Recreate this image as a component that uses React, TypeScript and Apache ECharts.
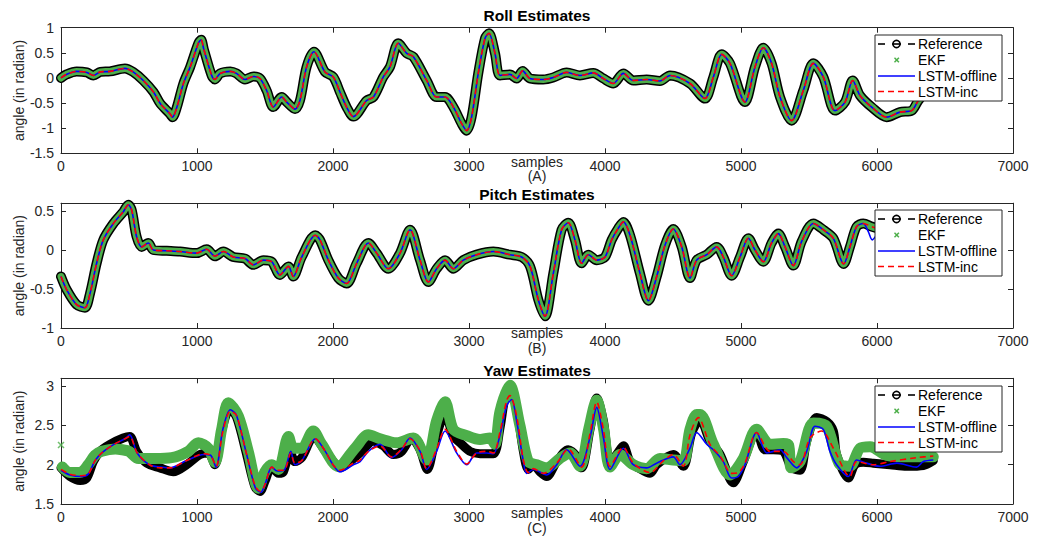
import React, { useEffect, useRef } from "react";
import * as echarts from "echarts";

type P = [number, number];

// ---------- data (sample index, angle in radian) ----------
const rollRef: P[] = [
  [0, 0.0], [40, 0.07], [115, 0.13], [190, 0.11], [238, 0.05], [290, 0.12], [360, 0.13], [470, 0.19], [530, 0.12],
  [605, -0.05], [680, -0.28], [730, -0.51], [800, -0.71], [820, -0.78], [850, -0.6], [900, -0.11], [950, 0.22],
  [1010, 0.69], [1030, 0.76], [1050, 0.57], [1108, 0.05], [1132, -0.03], [1170, 0.09], [1245, 0.13], [1290, 0.09],
  [1353, -0.03], [1415, 0.03], [1463, -0.01], [1512, -0.25], [1561, -0.58], [1623, -0.38], [1660, -0.48],
  [1721, -0.62], [1757, -0.45], [1806, 0.22], [1860, 0.52], [1941, 0.12], [2002, 0.02], [2051, -0.28],
  [2100, -0.58], [2150, -0.77], [2247, -0.45], [2297, -0.38], [2370, 0.02], [2419, 0.22], [2480, 0.69],
  [2542, 0.49], [2591, 0.42], [2689, -0.05], [2762, -0.38], [2824, -0.38], [2885, -0.58], [2946, -0.91],
  [2983, -1.05], [3019, -0.78], [3068, 0.09], [3118, 0.79], [3147, 0.89], [3191, 0.49], [3228, 0.05],
  [3301, 0.07], [3350, -0.01], [3394, 0.14], [3448, -0.01], [3546, -0.03], [3620, 0.01], [3718, 0.11],
  [3816, 0.05], [3914, 0.1], [3987, -0.01], [4061, -0.11], [4135, 0.09], [4208, -0.05], [4306, -0.03],
  [4404, -0.06], [4478, 0.05], [4625, -0.11], [4735, -0.41], [4797, 0.02], [4858, 0.47], [4919, 0.29],
  [5029, -0.48], [5103, 0.22], [5164, 0.6], [5225, 0.29], [5287, -0.38], [5372, -0.85], [5458, -0.25],
  [5532, 0.29], [5605, 0.02], [5691, -0.65], [5765, -0.48], [5821, -0.05], [5875, -0.35], [5961, -0.58],
  [6071, -0.78], [6169, -0.68], [6255, -0.65], [6304, -0.45], [6400, -0.15],
];
const rollEkf: P[] = rollRef;
const rollOffline: P[] = rollRef;
const rollInc: P[] = rollRef;

const pitchRef: P[] = [
  [0, -0.34], [42, -0.51], [115, -0.7], [176, -0.74], [213, -0.56], [262, -0.17], [311, 0.13], [385, 0.34],
  [458, 0.49], [495, 0.58], [520, 0.51], [556, 0.17], [593, 0.04], [642, 0.09], [679, 0.0], [777, -0.01],
  [875, -0.02], [998, -0.04], [1071, 0.01], [1132, -0.08], [1194, -0.02], [1267, -0.09], [1353, -0.11],
  [1414, -0.19], [1488, -0.13], [1549, -0.15], [1610, -0.32], [1672, -0.21], [1708, -0.34], [1770, -0.09],
  [1870, 0.19], [1904, 0.13], [1966, -0.13], [2039, -0.36], [2100, -0.43], [2174, -0.17], [2260, 0.09],
  [2321, -0.04], [2407, -0.24], [2493, -0.04], [2566, 0.26], [2640, -0.13], [2701, -0.41], [2762, -0.24],
  [2824, -0.13], [2885, -0.24], [2958, -0.13], [3056, -0.06], [3179, -0.02], [3301, -0.06], [3387, -0.09],
  [3449, -0.21], [3510, -0.64], [3559, -0.85], [3620, -0.3], [3681, 0.26], [3730, 0.35], [3779, 0.13],
  [3828, -0.17], [3877, -0.06], [3939, -0.13], [4000, -0.09], [4049, 0.13], [4098, 0.28], [4135, 0.36],
  [4184, 0.19], [4257, -0.3], [4319, -0.65], [4380, -0.34], [4441, 0.06], [4502, 0.27], [4564, 0.04],
  [4625, -0.36], [4674, -0.13], [4748, -0.06], [4821, 0.04], [4870, -0.09], [4931, -0.33], [4993, -0.09],
  [5054, 0.15], [5103, 0.0], [5164, -0.15], [5225, 0.09], [5274, 0.21], [5324, 0.04], [5385, -0.2],
  [5446, 0.11], [5532, 0.34], [5605, 0.26], [5679, 0.15], [5755, -0.18], [5801, 0.04], [5850, 0.3],
  [5899, 0.34], [5960, 0.3], [6000, 0.28],
];
const pitchEkf: P[] = pitchRef;
const pitchOfflineTail: P[] = [[5935, 0.24], [5965, 0.13], [6000, 0.2]];
const pitchOffline: P[] = [...pitchRef.filter((d) => d[0] <= 5899), ...pitchOfflineTail];
const pitchInc: P[] = pitchRef;

const yawRef: P[] = [
  [0, 1.96], [66, 1.85], [140, 1.8], [189, 1.83], [238, 2.04], [287, 2.17], [360, 2.26], [458, 2.34],
  [505, 2.36], [556, 2.17], [630, 2.02], [728, 1.96], [826, 1.91], [924, 2.0], [1022, 2.13], [1083, 2.15],
  [1132, 2.0], [1181, 2.43], [1243, 2.71], [1292, 2.6], [1365, 2.13], [1426, 1.72], [1463, 1.66], [1500, 1.79],
  [1549, 1.98], [1598, 1.89], [1635, 1.91], [1684, 2.17], [1720, 2.04], [1770, 2.09], [1860, 2.36],
  [1929, 2.21], [2002, 2.04], [2051, 1.96], [2125, 2.04], [2199, 2.15], [2297, 2.3], [2370, 2.24],
  [2444, 2.13], [2505, 2.17], [2578, 2.34], [2640, 2.19], [2694, 1.94], [2750, 2.3], [2824, 2.64],
  [2885, 2.36], [2934, 2.28], [3007, 2.17], [3081, 2.14], [3179, 2.14], [3228, 2.47], [3265, 2.85],
  [3301, 2.95], [3350, 2.72], [3400, 2.17], [3436, 1.94], [3473, 2.0], [3522, 1.91], [3571, 1.85],
  [3645, 2.04], [3730, 2.19], [3779, 2.13], [3828, 1.96], [3890, 2.45], [3939, 2.85], [3988, 2.56],
  [4037, 2.04], [4086, 2.13], [4135, 2.24], [4184, 2.04], [4245, 1.96], [4331, 1.89], [4380, 2.0],
  [4502, 2.13], [4576, 1.98], [4637, 2.4], [4699, 2.58], [4772, 2.3], [4846, 2.13], [4943, 1.77],
  [5017, 2.04], [5115, 2.43], [5176, 2.19], [5238, 2.19], [5311, 2.17], [5373, 1.96], [5434, 1.93],
  [5483, 2.3], [5557, 2.6], [5630, 2.55], [5679, 2.43], [5703, 2.13], [5789, 1.83], [5838, 2.0], [5899, 2.03],
  [5973, 2.02], [6096, 2.0], [6218, 1.98], [6341, 1.99], [6414, 2.05],
];
const yawEkf: P[] = [
  [10, 1.97], [66, 1.9], [140, 1.9], [200, 2.0], [250, 2.12], [300, 2.17], [400, 2.2], [450, 2.19],
  [500, 2.17], [569, 2.08], [691, 2.08], [814, 2.09], [936, 2.17], [1010, 2.28], [1083, 2.21], [1132, 2.03],
  [1181, 2.45], [1230, 2.79], [1304, 2.62], [1377, 2.17], [1451, 1.7], [1500, 1.91], [1549, 2.0],
  [1598, 1.94], [1672, 2.36], [1708, 2.21], [1770, 2.21], [1855, 2.43], [1917, 2.26], [2039, 1.98],
  [2162, 2.21], [2260, 2.38], [2346, 2.33], [2468, 2.28], [2590, 2.34], [2689, 2.06], [2762, 2.56],
  [2824, 2.8], [2885, 2.45], [2983, 2.37], [3081, 2.32], [3154, 2.34], [3191, 2.26], [3228, 2.68],
  [3301, 3.01], [3373, 2.51], [3436, 2.04], [3498, 2.0], [3571, 1.96], [3669, 2.08], [3743, 2.15],
  [3816, 1.98], [3880, 2.45], [3939, 2.82], [3990, 2.45], [4037, 1.97], [4110, 2.13], [4208, 2.0],
  [4306, 1.95], [4404, 2.08], [4502, 2.06], [4576, 2.05], [4625, 2.45], [4674, 2.64], [4699, 2.64],
  [4797, 2.26], [4919, 1.87], [5017, 2.08], [5115, 2.45], [5213, 2.26], [5311, 2.27], [5350, 2.25],
  [5370, 1.96], [5434, 2.04], [5532, 2.53], [5630, 2.49], [5728, 2.0], [5801, 1.98], [5875, 2.21],
  [5949, 2.23], [6071, 2.12], [6250, 2.1], [6414, 2.1],
];
const yawEkfOutliers: P[] = [[0, 2.25]];
const yawOffline: P[] = [
  [0, 1.93], [66, 1.87], [150, 1.85], [200, 1.88], [250, 2.05], [300, 2.15], [380, 2.25], [470, 2.33],
  [505, 2.38], [560, 2.15], [650, 2.0], [730, 1.97], [800, 1.96], [920, 2.05], [1050, 2.13], [1100, 2.12],
  [1140, 1.97], [1190, 2.45], [1245, 2.7], [1290, 2.63], [1365, 2.13], [1430, 1.7], [1470, 1.65],
  [1500, 1.75], [1550, 1.97], [1590, 1.92], [1640, 1.93], [1690, 2.17], [1720, 2.0], [1770, 2.05],
  [1870, 2.33], [1940, 2.18], [2000, 2.0], [2051, 1.91], [2150, 2.0], [2199, 2.04], [2260, 2.17],
  [2346, 2.26], [2431, 2.09], [2505, 2.19], [2566, 2.34], [2640, 2.17], [2689, 1.94], [2762, 2.17],
  [2824, 2.43], [2909, 2.15], [2983, 2.0], [3056, 2.15], [3130, 2.15], [3179, 2.14], [3228, 2.38],
  [3277, 2.75], [3314, 2.83], [3350, 2.56], [3400, 2.04], [3424, 1.89], [3473, 1.94], [3571, 1.87],
  [3645, 2.0], [3718, 2.19], [3816, 1.98], [3890, 2.35], [3939, 2.73], [3988, 2.35], [4037, 1.94],
  [4135, 2.21], [4208, 2.0], [4306, 1.96], [4380, 2.02], [4502, 2.1], [4551, 2.0], [4625, 2.21],
  [4674, 2.41], [4748, 2.26], [4797, 2.19], [4870, 2.04], [4931, 1.83], [4980, 1.85], [5029, 2.0],
  [5115, 2.41], [5189, 2.15], [5238, 2.17], [5287, 2.19], [5336, 2.09], [5409, 1.96], [5483, 2.17],
  [5544, 2.49], [5605, 2.45], [5654, 2.17], [5703, 2.0], [5789, 1.85], [5850, 2.06], [5924, 2.02],
  [6022, 1.98], [6145, 2.02], [6291, 1.97], [6341, 2.04], [6414, 2.06],
];
const yawInc: P[] = [
  [0, 1.94], [66, 1.88], [150, 1.86], [200, 1.88], [250, 2.05], [300, 2.15], [380, 2.25], [470, 2.33],
  [505, 2.36], [560, 2.15], [650, 2.0], [730, 1.96], [800, 1.96], [920, 2.05], [1050, 2.14], [1100, 2.12],
  [1140, 1.98], [1190, 2.42], [1245, 2.68], [1290, 2.63], [1365, 2.13], [1430, 1.72], [1470, 1.66],
  [1500, 1.75], [1550, 1.97], [1590, 1.93], [1640, 1.93], [1690, 2.15], [1720, 2.02], [1770, 2.05],
  [1870, 2.33], [1940, 2.18], [2000, 2.0], [2051, 1.93], [2150, 2.02], [2199, 2.06], [2260, 2.17],
  [2346, 2.24], [2431, 2.1], [2505, 2.2], [2566, 2.33], [2640, 2.18], [2689, 1.95], [2762, 2.2],
  [2824, 2.45], [2909, 2.17], [2983, 2.01], [3056, 2.15], [3130, 2.17], [3179, 2.15], [3228, 2.42],
  [3277, 2.82], [3301, 2.88], [3350, 2.62], [3400, 2.06], [3436, 1.9], [3473, 1.95], [3546, 1.89],
  [3645, 2.02], [3730, 2.2], [3828, 1.97], [3890, 2.4], [3939, 2.8], [3988, 2.45], [4037, 1.98],
  [4135, 2.22], [4208, 2.02], [4331, 1.9], [4429, 2.05], [4502, 2.13], [4576, 1.98], [4625, 2.38],
  [4686, 2.6], [4772, 2.26], [4850, 2.1], [4931, 1.89], [4980, 1.9], [5029, 2.02], [5115, 2.41],
  [5213, 2.17], [5311, 2.17], [5385, 2.04], [5434, 2.0], [5507, 2.34], [5593, 2.43], [5679, 2.21],
  [5801, 1.85], [5850, 2.04], [5973, 2.0], [6096, 2.04], [6291, 2.09], [6414, 2.11],
];

const panelTitles = ["Roll Estimates", "Pitch Estimates", "Yaw Estimates"];
const panelTags = ["(A)", "(B)", "(C)"];
const xLabel = "samples";
const yLabel = "angle (in radian)";
const legendNames = ["Reference", "EKF", "LSTM-offline", "LSTM-inc"];
const xRange = [0, 7000];
const yRanges = [[-1.5, 1], [-1, 0.6], [1.5, 3.1]];
const panelSeries = [
  [rollRef, rollEkf, rollOffline, rollInc],
  [pitchRef, pitchEkf, pitchOffline, pitchInc],
  [yawRef, yawEkf, yawOffline, yawInc],
];
const panelEkfOutliers: P[][] = [[], [], yawEkfOutliers];

// ---------- layout / style ----------
const FONT = "'Liberation Sans', Helvetica, Arial, sans-serif";
const AX = "#262626";
const GREEN = "#4daf4a";
const LEFT = 61;
const RIGHT = 1013;
const layout = [
  { top: 27.7, bottom: 153.3, titleY: 15.5, samplesY: 161.5, tagY: 176, legendTop: 35, refW: 10, ekfW: 7 },
  { top: 203.2, bottom: 328, titleY: 194.5, samplesY: 333, tagY: 348, legendTop: 210, refW: 10, ekfW: 7 },
  { top: 378.3, bottom: 504, titleY: 370, samplesY: 513, tagY: 528, legendTop: 386, refW: 9, ekfW: 11 },
];

function buildOption() {
  const grid: any[] = [];
  const xAxis: any[] = [];
  const yAxis: any[] = [];
  const series: any[] = [];
  const graphic: any[] = [];
  const axisLine = { show: true, onZero: false, lineStyle: { color: AX, width: 1 } };
  const axisTick = { show: true, inside: true, length: 5, lineStyle: { color: AX, width: 1 } };

  layout.forEach((L, i) => {
    grid.push({ left: LEFT, top: L.top, width: RIGHT - LEFT, height: L.bottom - L.top });
    const [ymin, ymax] = yRanges[i];
    const common = { type: "value", gridIndex: i, splitLine: { show: false }, axisLine, axisTick };
    xAxis.push({
      ...common, position: "bottom", min: xRange[0], max: xRange[1], interval: 1000,
      axisLabel: { color: AX, fontSize: 14, fontFamily: FONT, margin: 6, formatter: (v: number) => String(v) },
    });
    xAxis.push({ ...common, position: "top", min: xRange[0], max: xRange[1], interval: 1000, axisLabel: { show: false } });
    yAxis.push({
      ...common, position: "left", min: ymin, max: ymax, interval: 0.5,
      axisLabel: { color: AX, fontSize: 14, fontFamily: FONT, margin: 7, showMaxLabel: i === 0, formatter: (v: number) => String(v) },
    });
    yAxis.push({ ...common, position: "right", min: ymin, max: ymax, interval: 0.5, axisLabel: { show: false } });

    const [ref, ekf, off, inc] = panelSeries[i];
    const base = { type: "line", xAxisIndex: 2 * i, yAxisIndex: 2 * i, symbol: "none", showSymbol: false, smooth: 0.3, silent: true };
    series.push({ ...base, name: legendNames[0], data: ref, lineStyle: { color: "#000", width: L.refW, cap: "round", join: "round" }, z: 2 });
    series.push({ ...base, name: legendNames[1], data: ekf, lineStyle: { color: GREEN, width: L.ekfW, cap: "round", join: "round" }, z: 3 });
    if (panelEkfOutliers[i].length) {
      series.push({
        type: "scatter", xAxisIndex: 2 * i, yAxisIndex: 2 * i, silent: true, z: 3,
        data: panelEkfOutliers[i], symbol: "path://M0,0L10,10M10,0L0,10", symbolSize: 6,
        itemStyle: { color: "none", borderColor: GREEN, borderWidth: 1.5 },
      });
    }
    series.push({ ...base, name: legendNames[2], data: off, lineStyle: { color: "#0000ff", width: 1.6 }, z: 4 });
    series.push({ ...base, name: legendNames[3], data: inc, lineStyle: { color: "#ff0000", width: 1.6, type: [6, 4] }, z: 5 });

    const cx = (LEFT + RIGHT) / 2;
    graphic.push({ type: "text", x: cx, y: L.titleY, z: 50, style: { text: panelTitles[i], fill: "#000", font: `bold 15.5px ${FONT}`, align: "center", verticalAlign: "middle" } });
    graphic.push({ type: "text", x: cx, y: L.samplesY, z: 50, style: { text: xLabel, fill: AX, font: `14px ${FONT}`, align: "center", verticalAlign: "middle" } });
    graphic.push({ type: "text", x: cx, y: L.tagY, z: 50, style: { text: panelTags[i], fill: AX, font: `14px ${FONT}`, align: "center", verticalAlign: "middle" } });
    graphic.push({ type: "text", x: 19, y: (L.top + L.bottom) / 2, rotation: Math.PI / 2, z: 50, style: { text: yLabel, fill: AX, font: `14px ${FONT}`, align: "center", verticalAlign: "middle" } });

    // legend
    const lt = L.legendTop;
    const lx = 875;
    graphic.push({ type: "rect", z: 100, shape: { x: lx, y: lt, width: 127, height: 66 }, style: { fill: "#fff", stroke: AX, lineWidth: 1 } });
    const rows = [lt + 9, lt + 25, lt + 41, lt + 56.5];
    const z = 101;
    graphic.push({ type: "line", z, shape: { x1: 878, y1: rows[0], x2: 885, y2: rows[0] }, style: { stroke: "#000", lineWidth: 1.6 } });
    graphic.push({ type: "line", z, shape: { x1: 892, y1: rows[0], x2: 901, y2: rows[0] }, style: { stroke: "#000", lineWidth: 1.6 } });
    graphic.push({ type: "line", z, shape: { x1: 908, y1: rows[0], x2: 915, y2: rows[0] }, style: { stroke: "#000", lineWidth: 1.6 } });
    graphic.push({ type: "circle", z, shape: { cx: 896.5, cy: rows[0], r: 3.6 }, style: { fill: "none", stroke: "#000", lineWidth: 1.6 } });
    graphic.push({ type: "line", z, shape: { x1: 894.5, y1: rows[1] - 2.2, x2: 898.9, y2: rows[1] + 2.2 }, style: { stroke: GREEN, lineWidth: 1.5 } });
    graphic.push({ type: "line", z, shape: { x1: 894.5, y1: rows[1] + 2.2, x2: 898.9, y2: rows[1] - 2.2 }, style: { stroke: GREEN, lineWidth: 1.5 } });
    graphic.push({ type: "line", z, shape: { x1: 878, y1: rows[2], x2: 915, y2: rows[2] }, style: { stroke: "#0000ff", lineWidth: 1.6 } });
    graphic.push({ type: "line", z, shape: { x1: 878, y1: rows[3], x2: 915, y2: rows[3] }, style: { stroke: "#ff0000", lineWidth: 1.6, lineDash: [6, 4] } });
    legendNames.forEach((name, k) => {
      graphic.push({ type: "text", z, x: 918, y: rows[k], style: { text: name, fill: "#000", font: `14px ${FONT}`, align: "left", verticalAlign: "middle" } });
    });
  });

  return {
    animation: false,
    backgroundColor: "#fff",
    textStyle: { fontFamily: FONT },
    grid,
    xAxis,
    yAxis,
    series,
    graphic: { elements: graphic },
  };
}

export default function App() {
  const ref = useRef<HTMLDivElement>(null);
  useEffect(() => {
    document.body.style.margin = "0";
    if (!ref.current) return;
    const chart = echarts.init(ref.current, undefined, { renderer: "svg" });
    chart.setOption(buildOption() as any);
    return () => chart.dispose();
  }, []);
  return <div ref={ref} style={{ width: 1044, height: 538 }} />;
}
